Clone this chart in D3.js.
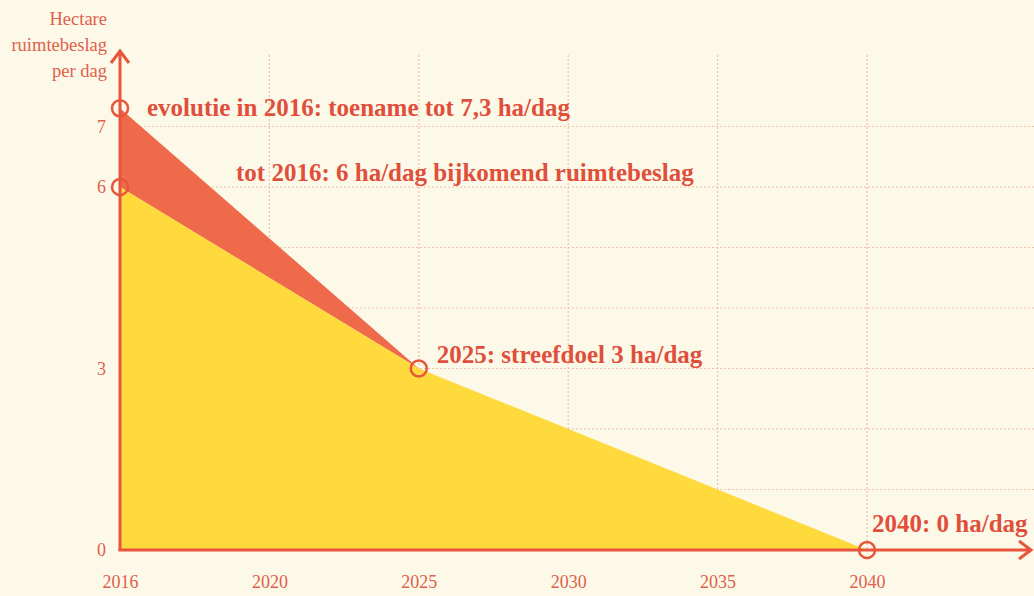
<!DOCTYPE html>
<html>
<head>
<meta charset="utf-8">
<script src="https://cdn.jsdelivr.net/npm/d3@7"></script>
<style>
  body { margin: 0; background: #fdf9e9; }
  svg { display: block; }
  text { font-family: "Liberation Serif", "DejaVu Serif", serif; }
</style>
</head>
<body>
<div id="chart"></div>
<script>
// data
const xYears = ["2016", "2020", "2025", "2030", "2035", "2040"];
const yTicks = [0, 3, 6, 7];
const yGrid = [1, 2, 3, 4, 5, 6, 7];
const targetYears = ["2016", "2025", "2040"];
const targetValues = [6, 3, 0];
const evolutionYears = ["2016", "2025"];
const evolutionValues = [7.3, 3];
const markerYears = ["2016", "2016", "2025", "2040"];
const markerValues = [7.3, 6, 3, 0];
const notes = [
    { text: "evolutie in 2016: toename tot 7,3 ha/dag", year: "2016", value: 7.3, dx: 27, dy: 8 },
    { text: "tot 2016: 6 ha/dag bijkomend ruimtebeslag", year: "2016", value: 6, dx: 116, dy: -6 },
    { text: "2025: streefdoel 3 ha/dag", year: "2025", value: 3, dx: 18, dy: -6 },
    { text: "2040: 0 ha/dag", year: "2040", value: 0, dx: 5, dy: -18 }
];
const yTitle = ["Hectare", "ruimtebeslag", "per dag"];

const W = 1034, H = 596;
const red = "#e8553a";
const textRed = "#df4f3b";

const svg = d3.select('#chart').append('svg')
    .attr('width', W)
    .attr('height', H);

svg.append('rect').attr('width', W).attr('height', H).attr('fill', '#fdf9e9');

const xScale = d3.scalePoint().domain(xYears).range([120, 867]);
const yScale = d3.scaleLinear().domain([0, 7]).range([550, 126.5]);

// grid
const gridGroup = svg.append('g').attr('id', 'grid');
gridGroup.selectAll('line.h')
    .data(yGrid)
    .enter()
    .append('line')
    .attr('x1', 120).attr('x2', W)
    .attr('y1', d => yScale(d)).attr('y2', d => yScale(d))
    .attr('stroke', '#f0c0aa')
    .attr('stroke-width', 1.2)
    .attr('stroke-dasharray', '2 2');
gridGroup.selectAll('line.v')
    .data(xYears.slice(1))
    .enter()
    .append('line')
    .attr('x1', d => xScale(d)).attr('x2', d => xScale(d))
    .attr('y1', 55).attr('y2', 550)
    .attr('stroke', '#f0c0aa')
    .attr('stroke-width', 1.2)
    .attr('stroke-dasharray', '2 2');

// areas
const target = targetYears.map((y, i) => ({ year: y, value: targetValues[i] }));
const evolution = evolutionYears.map((y, i) => ({ year: y, value: evolutionValues[i] }));

const area = d3.area()
    .x(d => xScale(d.year))
    .y0(yScale(0))
    .y1(d => yScale(d.value));

const band = d3.area()
    .x(d => xScale(d.year))
    .y0(d => yScale(target.find(t => t.year === d.year).value))
    .y1(d => yScale(d.value));

svg.append('path')
    .datum(evolution)
    .attr('fill', '#ee6a4b')
    .attr('d', band);

svg.append('path')
    .datum(target)
    .attr('fill', '#fed62a')
    .attr('fill-opacity', 0.9)
    .attr('d', area);

// axes
const yAxisG = svg.append('g').attr('transform', 'translate(120,0)');
yAxisG.call(d3.axisLeft(yScale).tickValues(yTicks).tickSize(0).tickPadding(14).tickFormat(d3.format('d')));
yAxisG.select('.domain').remove();
yAxisG.selectAll('text').attr('fill', '#e0604a').attr('font-size', 18);

const xAxisG = svg.append('g').attr('transform', 'translate(0,550)');
xAxisG.call(d3.axisBottom(xScale).tickSize(0).tickPadding(25));
xAxisG.select('.domain').remove();
xAxisG.selectAll('text').attr('fill', '#e0604a').attr('font-size', 18);

// axis lines with arrows
svg.append('path')
    .attr('d', `M120,551 L120,51 M111,63 L120,51 L129,63`)
    .attr('fill', 'none')
    .attr('stroke', red)
    .attr('stroke-width', 3);
svg.append('path')
    .attr('d', `M118.5,550 L1031,550 M1019,541 L1031,550 L1019,559`)
    .attr('fill', 'none')
    .attr('stroke', red)
    .attr('stroke-width', 3);

// axis title
svg.append('text')
    .attr('text-anchor', 'end')
    .attr('fill', '#e0604a')
    .attr('font-size', 18.5)
    .selectAll('tspan')
    .data(yTitle)
    .enter()
    .append('tspan')
    .attr('x', 107)
    .attr('y', (d, i) => 25 + i * 26)
    .text(d => d);

// markers
svg.selectAll('circle.marker')
    .data(markerYears.map((y, i) => ({ year: y, value: markerValues[i] })))
    .enter()
    .append('circle')
    .attr('class', 'marker')
    .attr('cx', d => xScale(d.year))
    .attr('cy', d => yScale(d.value))
    .attr('r', 8)
    .attr('fill', 'none')
    .attr('stroke', red)
    .attr('stroke-width', 2.5);

// notes
svg.selectAll('text.note')
    .data(notes)
    .enter()
    .append('text')
    .attr('class', 'note')
    .attr('x', d => xScale(d.year) + d.dx)
    .attr('y', d => yScale(d.value) + d.dy)
    .attr('fill', textRed)
    .attr('font-weight', 'bold')
    .attr('font-size', 25)
    .text(d => d.text);
</script>
</body>
</html>
